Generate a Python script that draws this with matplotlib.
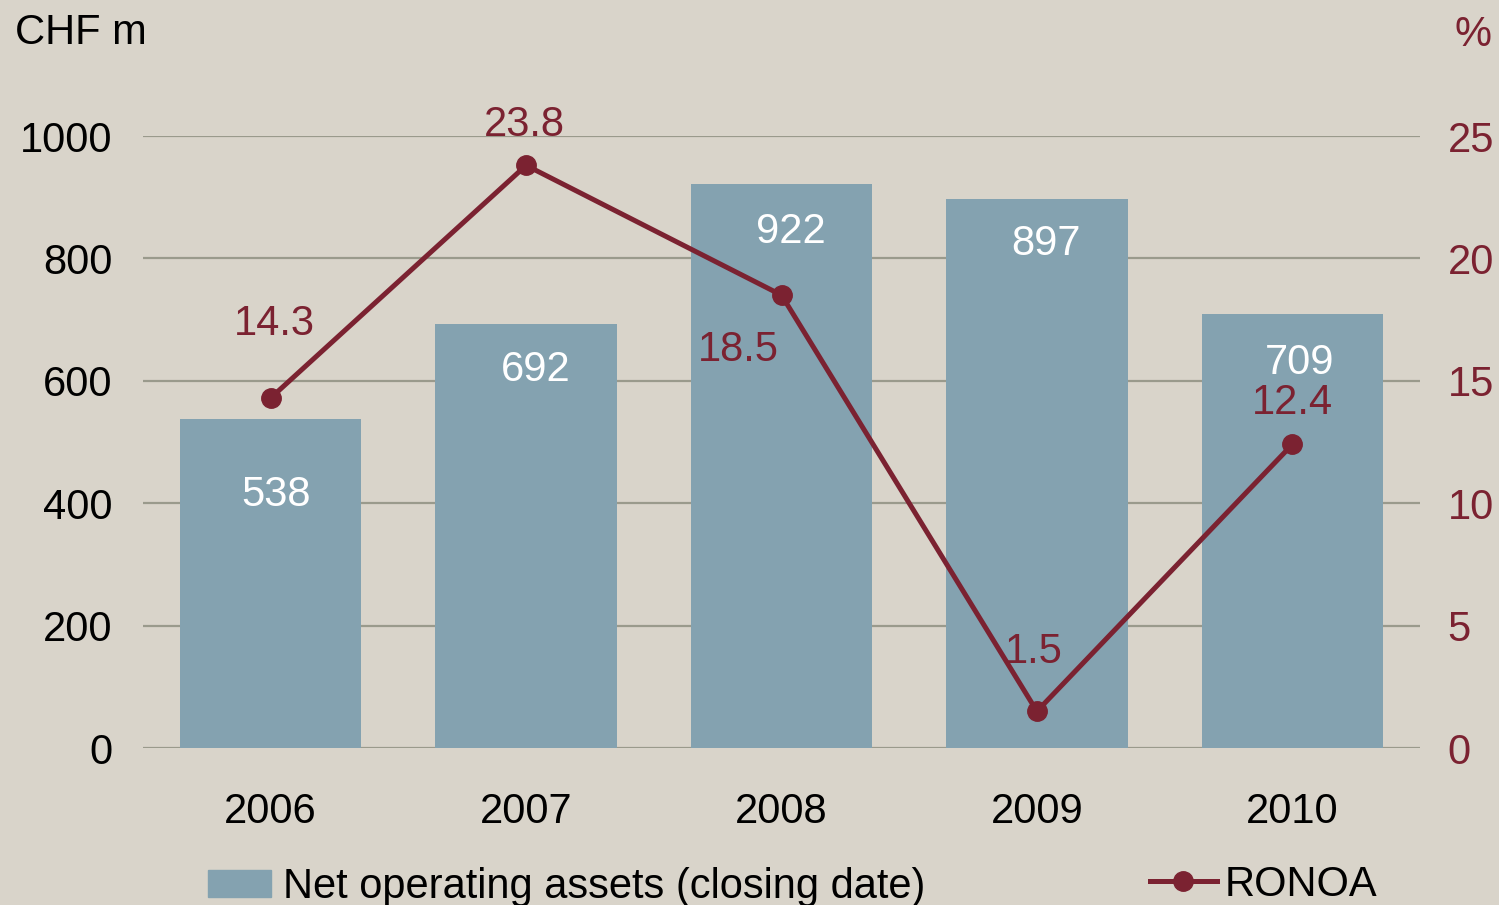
import matplotlib.pyplot as plt
from matplotlib.lines import Line2D
import matplotlib.patches as mpatches
import numpy as np

plt.rcParams['font.family'] = ['Liberation Sans', 'DejaVu Sans']

years = ['2006', '2007', '2008', '2009', '2010']
net_assets = [538, 692, 922, 897, 709]
ronoa = [14.3, 23.8, 18.5, 1.5, 12.4]

bg = '#D9D4CA'
bar_color = '#84A2B0'
line_color = '#7B2231'
grid_color = '#9A9A8C'

# label offsets in pixels (dx, dy)
bar_lbl_off = [(5, -76), (10, -46), (9, -48), (9, -45), (7, -49)]
line_lbl_off = [(4, 74), (-2, 40), (-43, -55), (-3, 59), (0, 41)]

fig = plt.figure(figsize=(14.99, 9.05), dpi=100, facecolor=bg)
ax = fig.add_axes([143 / 1499, 1 - 748 / 905, (1420 - 143) / 1499, (748 - 136) / 905])
ax.set_facecolor(bg)
x = np.arange(len(years))

ax.bar(x, net_assets, width=0.71, color=bar_color, zorder=2)
ax.set_xlim(-0.5, 4.5)
ax.set_ylim(0, 1000)
ax.set_yticks(range(0, 1001, 200))
ax.yaxis.grid(True, color=grid_color, lw=1.6, zorder=0)
ax.set_axisbelow(True)
for s in ax.spines.values():
    s.set_visible(False)
ax.tick_params(axis='both', length=0, labelsize=30, colors='black')
ax.tick_params(axis='y', pad=22)
ax.tick_params(axis='x', pad=32)
ax.set_xticks(x, years)

px = 72 / 100
for i, v in enumerate(net_assets):
    dx, dy = bar_lbl_off[i]
    ax.annotate(str(v), (x[i], v), xytext=(dx * px, dy * px), textcoords='offset points',
                ha='center', va='center', color='white', fontsize=30, zorder=3)

ax2 = ax.twinx()
ax2.set_ylim(0, 25)
ax2.set_yticks(range(0, 26, 5))
for s in ax2.spines.values():
    s.set_visible(False)
ax2.tick_params(axis='y', length=0, labelsize=30, colors=line_color, pad=20)
ax2.plot(x, ronoa, color=line_color, lw=3.6, marker='o', ms=14, zorder=4, clip_on=False)
for i, v in enumerate(ronoa):
    dx, dy = line_lbl_off[i]
    ax2.annotate(f'{v}', (x[i], v), xytext=(dx * px, dy * px), textcoords='offset points',
                 ha='center', va='center', color=line_color, fontsize=30)

fig.text(15 / 1499, 1 - 33 / 905, 'CHF m', fontsize=30, ha='left', va='center')
fig.text(1492 / 1499, 1 - 35 / 905, '%', fontsize=30, ha='right', va='center', color=line_color)

bar_patch = mpatches.Patch(color=bar_color, label='Net operating assets (closing date)')
line_handle = Line2D([], [], color=line_color, lw=3.6, marker='o', ms=14, label='RONOA')
fig.legend(handles=[bar_patch], loc='center left', bbox_to_anchor=(208 / 1499, 1 - 887 / 905),
           frameon=False, fontsize=30, handlelength=1.5, handleheight=0.6, handletextpad=0.3,
           borderaxespad=0, borderpad=0)
fig.legend(handles=[line_handle], loc='center left', bbox_to_anchor=(1150 / 1499, 1 - 885 / 905),
           frameon=False, fontsize=30, handlelength=1.6, handletextpad=0.2,
           borderaxespad=0, borderpad=0)

fig.savefig('out.png', dpi=100, facecolor=bg)
